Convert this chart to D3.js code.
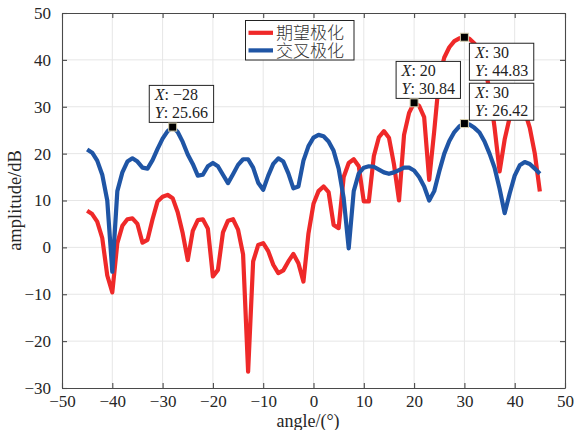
<!DOCTYPE html>
<html>
<head>
<meta charset="utf-8">
<script src="https://cdn.jsdelivr.net/npm/d3@7"></script>
<style>
  html, body { margin: 0; padding: 0; background: #fff; }
  svg { display: block; }
</style>
</head>
<body>
<svg id="chart" width="577" height="430"></svg>
<script>
// Scan angles (degrees)
const angles = [-45,-44,-43,-42,-41,-40,-39,-38,-37,-36,-35,-34,-33,-32,-31,-30,-29,-28,-27,-26,
  -25,-24,-23,-22,-21,-20,-19,-18,-17,-16,-15,-14,-13,-12,-11,-10,-9,-8,-7,-6,
  -5,-4,-3,-2,-1,0,1,2,3,4,5,6,7,8,9,10,11,12,13,14,
  15,16,17,18,19,20,21,22,23,24,25,26,27,28,29,30,31,32,33,34,
  35,36,37,38,39,40,41,42,43,44,45];

// 期望极化 (co-polarised) amplitude, dB
const coPol = [7.8,7.1,5.5,2.0,-6.0,-9.6,0.9,4.6,6.0,6.2,5.0,1.0,1.6,6.0,9.8,10.8,11.2,10.5,7.5,3.0,
  -2.7,3.5,5.8,6.0,4.0,-6.2,-4.8,3.2,5.7,6.0,3.8,-1.5,-26.5,-3.0,0.5,0.9,-0.8,-3.7,-5.5,-4.9,
  -3.0,-1.4,-3.4,-7.3,3.0,9.3,12.0,13.0,11.8,4.8,4.1,15.0,18.0,18.8,17.3,9.8,9.8,19.5,23.5,24.8,
  23.4,17.7,10.0,24.0,28.7,30.84,30.2,27.8,14.4,24.8,36.3,40.5,42.7,44.0,44.6,44.83,44.5,43.5,41.5,38.8,
  33.5,25.5,16.2,23.0,27.7,30.3,30.7,29.0,25.5,20.0,11.9];

// 交叉极化 (cross-polarised) amplitude, dB
const crossPol = [20.9,20.2,18.5,15.5,10.0,-5.2,12.0,16.0,18.3,19.0,18.3,17.0,16.8,18.6,21.0,23.2,24.8,25.66,24.6,22.5,
  19.8,17.8,15.3,15.5,17.3,18.0,17.3,15.5,13.7,15.6,17.6,18.8,18.8,17.0,13.8,12.3,15.3,17.8,19.0,18.3,
  15.8,12.6,13.0,18.5,21.6,23.4,24.0,23.7,22.6,20.6,16.8,10.5,-0.2,12.0,15.8,17.0,17.3,17.2,16.6,16.0,
  15.7,16.0,16.5,17.0,17.0,16.4,15.0,13.0,10.0,12.0,16.2,20.0,22.7,24.6,25.8,26.42,26.2,25.5,24.5,22.6,
  20.0,17.0,12.5,7.3,11.5,15.3,17.5,18.2,17.8,16.8,15.7];

const seriesNames = ["期望极化", "交叉极化"];
const xTicks = [-50,-40,-30,-20,-10,0,10,20,30,40,50];
const yTicks = [-30,-20,-10,0,10,20,30,40,50];

// Data tips: which series and angle
const tipSeries = [1, 0, 0, 1];
const tipAngles = [-28, 20, 30, 30];

// ---- layout ----
const W = 577, H = 430;
const margin = { left: 62, right: 12, top: 13, bottom: 42 };
const pw = W - margin.left - margin.right;
const ph = H - margin.top - margin.bottom;
const colors = ["#ef2929", "#1f55a5"];
const axisColor = "#4a4a4a";
const textColor = "#262626";
const serif = "'Liberation Serif', 'Times New Roman', serif";

const svg = d3.select("#chart");
const g = svg.append("g").attr("transform", `translate(${margin.left},${margin.top})`);

const x = d3.scaleLinear().domain([-50, 50]).range([0, pw]);
const y = d3.scaleLinear().domain([-30, 50]).range([ph, 0]);

// grid
g.append("g").selectAll("line").data(xTicks.slice(1, -1)).join("line")
  .attr("x1", d => x(d)).attr("x2", d => x(d)).attr("y1", 0).attr("y2", ph)
  .attr("stroke", "#e6e6e6").attr("stroke-width", 1);
g.append("g").selectAll("line").data(yTicks.slice(1, -1)).join("line")
  .attr("y1", d => y(d)).attr("y2", d => y(d)).attr("x1", 0).attr("x2", pw)
  .attr("stroke", "#e6e6e6").attr("stroke-width", 1);

// series lines
const line = d3.line().x((d, i) => x(angles[i])).y(d => y(d)).curve(d3.curveLinear);
[coPol, crossPol].forEach((vals, k) => {
  g.append("path").datum(vals).attr("d", line)
    .attr("fill", "none").attr("stroke", colors[k]).attr("stroke-width", 4.2)
    .attr("stroke-linejoin", "round").attr("stroke-linecap", "butt");
});

// axes (ticks inward on all four sides)
const fmt = d3.format("d");
function styleAxis(sel, showLabels) {
  sel.select(".domain").attr("stroke", axisColor).attr("stroke-width", 1.1);
  sel.selectAll(".tick line").attr("stroke", axisColor).attr("stroke-width", 1.1);
  sel.selectAll(".tick text").attr("fill", textColor)
    .style("font-family", serif).style("font-size", "17px")
    .attr("display", showLabels ? null : "none");
}
g.append("g").attr("transform", `translate(0,${ph})`)
  .call(d3.axisBottom(x).tickValues(xTicks).tickFormat(fmt).tickSizeInner(-5).tickSizeOuter(0).tickPadding(7))
  .call(s => styleAxis(s, true));
g.append("g")
  .call(d3.axisTop(x).tickValues(xTicks).tickSizeInner(-5).tickSizeOuter(0))
  .call(s => styleAxis(s, false));
g.append("g")
  .call(d3.axisLeft(y).tickValues(yTicks).tickFormat(fmt).tickSizeInner(-5).tickSizeOuter(0).tickPadding(11))
  .call(s => styleAxis(s, true));
g.append("g").attr("transform", `translate(${pw},0)`)
  .call(d3.axisRight(y).tickValues(yTicks).tickSizeInner(-5).tickSizeOuter(0))
  .call(s => styleAxis(s, false));

// axis titles
svg.append("text").attr("x", 308).attr("y", 427.3).attr("text-anchor", "middle")
  .attr("fill", textColor).style("font-family", serif).style("font-size", "18px")
  .text("angle/(°)");
svg.append("text").attr("transform", `translate(21,${margin.top + ph / 2}) rotate(-90)`)
  .attr("text-anchor", "middle").attr("fill", textColor)
  .style("font-family", serif).style("font-size", "18.5px")
  .text("amplitude/dB");

// legend: one text block, one line per series
const leg = svg.append("g");
const legRowGap = 17.6, legTop = 32.8;
leg.append("rect").attr("x", 245.5).attr("y", 20.5).attr("width", 108.5).attr("height", 39.5)
  .attr("fill", "#fff").attr("stroke", "#222").attr("stroke-width", 1);
seriesNames.forEach((name, k) => {
  const ly = legTop + k * legRowGap;
  leg.append("line").attr("x1", 248.5).attr("x2", 273).attr("y1", ly).attr("y2", ly)
    .attr("stroke", colors[k]).attr("stroke-width", 4.2);
});
const legText = leg.append("text").attr("fill", "#333")
  .style("font-family", "'Noto Sans CJK SC', sans-serif")
  .style("font-size", "17px").style("font-weight", 300);
seriesNames.forEach((name, k) => {
  legText.append("tspan").attr("x", 276).attr("y", legTop + k * legRowGap + 6.2).text(name);
});

// data tips
const allSeries = [coPol, crossPol];
const tipPlacement = [
  { dx: -23.4, anchor: "above", gap: 4.7 },
  { dx: -18, anchor: "above", gap: 4.4 },
  { dx: 5, anchor: "below", gap: 6 },
  { dx: 5, anchor: "above", gap: 3.3 }
];
const tipLayer = g.append("g");
tipSeries.forEach((s, i) => {
  const a = tipAngles[i];
  const v = allSeries[s][angles.indexOf(a)];
  const mx = x(a), my = y(v);
  const p = tipPlacement[i];
  const tg = tipLayer.append("g");
  const rect = tg.append("rect").attr("fill", "#fff").attr("stroke", "#222").attr("stroke-width", 1);
  const t = tg.append("text").attr("fill", "#222").style("font-family", serif).style("font-size", "16px");
  const l1x = t.append("tspan").style("font-style", "italic").text("X");
  const l1 = t.append("tspan").text(": " + fmt(a));
  const l2x = t.append("tspan").style("font-style", "italic").text("Y");
  const l2 = t.append("tspan").text(": " + d3.format(".2f")(v));
  const w1 = l1x.node().getComputedTextLength() + l1.node().getComputedTextLength();
  const w2 = l2x.node().getComputedTextLength() + l2.node().getComputedTextLength();
  const bw = Math.max(w1, w2) + 11, bh = 37;
  const bx = mx + p.dx;
  const by = p.anchor === "above" ? my - p.gap - bh : my + p.gap;
  rect.attr("x", bx).attr("y", by).attr("width", bw).attr("height", bh);
  l1x.attr("x", bx + 5.5).attr("y", by + 15);
  l2x.attr("x", bx + 5.5).attr("y", by + 32.8);
  tg.append("rect").attr("x", mx - 4).attr("y", my - 4).attr("width", 8).attr("height", 8)
    .attr("fill", "#000").attr("stroke", "#d6cfae").attr("stroke-width", 1);
});
</script>
</body>
</html>
